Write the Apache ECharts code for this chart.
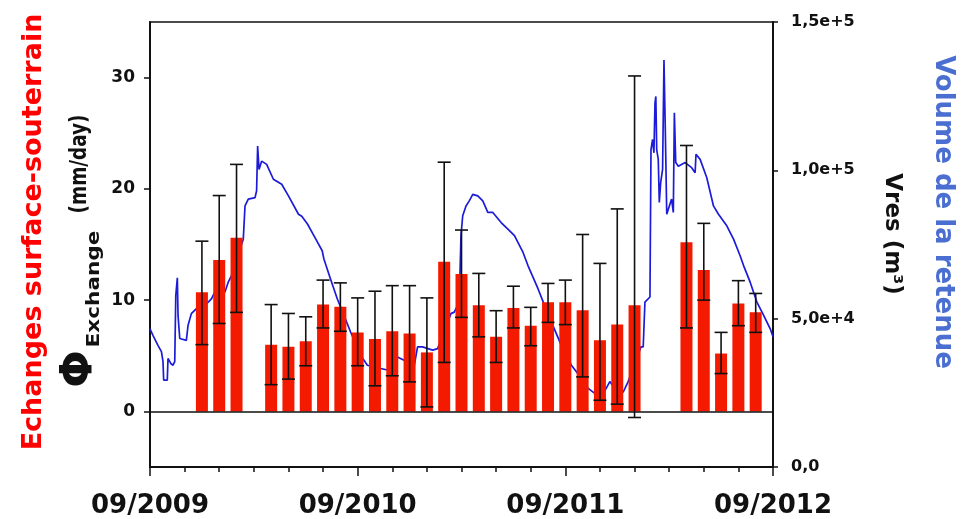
<!DOCTYPE html>
<html>
<head>
<meta charset="utf-8">
<script src="https://cdn.jsdelivr.net/npm/echarts@6/dist/echarts.min.js"></script>
<style>
html,body{margin:0;padding:0;background:#fff;}
#chart{width:972px;height:519px;}
</style>
</head>
<body>
<div id="chart"></div>
<script>
// ---- Data (months counted from 09/2009) ----
const xTickLabels = ['09/2009', '09/2010', '09/2011', '09/2012'];
const xTickMonths = [0, 12, 24, 36];
const leftTickValues = [0, 10, 20, 30];
const rightTickValues = [0, 50000, 100000, 150000];
const rightTickLabels = ['0,0', '5,0e+4', '1,0e+5', '1,5e+5'];

const barMonths = [3, 4, 5, 7, 8, 9, 10, 11, 12, 13, 14, 15, 16, 17, 18, 19, 20, 21, 22, 23, 24, 25, 26, 27, 28, 31, 32, 33, 34, 35];
const exchange  = [10.7, 13.6, 15.6, 6.0, 5.8, 6.3, 9.6, 9.4, 7.1, 6.5, 7.2, 7.0, 5.3, 13.45, 12.35, 9.55, 6.7, 9.3, 7.7, 9.8, 9.8, 9.1, 6.4, 7.8, 9.55, 15.2, 12.7, 5.2, 9.7, 8.9];
const errHigh   = [15.3, 19.4, 22.2, 9.6, 8.8, 8.5, 11.8, 11.55, 10.2, 10.8, 11.3, 11.3, 10.2, 22.4, 16.3, 12.4, 9.05, 11.25, 9.35, 11.5, 11.8, 15.9, 13.3, 18.2, 30.15, 23.9, 16.9, 7.1, 11.75, 10.6];
const errLow    = [6.0, 7.9, 8.9, 2.4, 2.9, 4.1, 7.5, 7.2, 4.1, 2.3, 3.2, 2.65, 0.4, 4.4, 8.45, 6.7, 4.4, 7.5, 5.9, 8.0, 7.8, 3.1, 1.0, 0.65, -0.55, 7.5, 10.0, 3.4, 7.7, 7.1];

const volMonth = [0, 0.17, 0.46, 0.66, 0.75, 0.79, 1.00, 1.04, 1.20, 1.33, 1.43, 1.49, 1.58, 1.62, 1.72, 2.10, 2.20, 2.39, 2.68, 3.26, 3.55, 3.75, 4.04, 4.33, 4.52, 4.71, 5.39, 5.49, 5.68, 6.07, 6.16, 6.22, 6.30, 6.45, 6.74, 7.13, 7.61, 8.00, 8.58, 8.77, 9.10, 9.47, 9.95, 10.05, 10.43, 10.82, 11.21, 11.59, 12.17, 12.56, 13.33, 13.72, 14.30, 14.68, 15.26, 15.46, 15.75, 16.33, 16.62, 17.39, 17.58, 17.87, 17.97, 18.07, 18.26, 18.45, 18.65, 18.94, 19.23, 19.52, 19.81, 20.29, 20.68, 21.06, 21.55, 21.84, 22.42, 22.80, 23.19, 23.77, 24.35, 24.93, 25.32, 25.70, 26.26, 26.57, 26.86, 27.34, 27.63, 28.37, 28.50, 28.60, 28.89, 28.95, 29.04, 29.12, 29.18, 29.23, 29.28, 29.37, 29.43, 29.51, 29.62, 29.70, 29.78, 29.86, 30.01, 30.14, 30.24, 30.30, 30.38, 30.53, 30.92, 31.30, 31.50, 31.55, 31.79, 32.17, 32.56, 32.85, 33.33, 33.72, 34.10, 34.30, 34.68, 35.07, 35.46, 35.84, 36.00];
const volume   = [46600, 44400, 41000, 38900, 35600, 29300, 29300, 36600, 34900, 34300, 35500, 57800, 63800, 51100, 43300, 42700, 47800, 51700, 53400, 55000, 56700, 59000, 58400, 59000, 62300, 64500, 76800, 88000, 90300, 90800, 93100, 108200, 100300, 103100, 102000, 97000, 95300, 91400, 85200, 84500, 81900, 78000, 72900, 70100, 63400, 56700, 51100, 45500, 37700, 34300, 33200, 32700, 37100, 36000, 33800, 40500, 40500, 39400, 39900, 51700, 52200, 55600, 78000, 84700, 88000, 89700, 91900, 91400, 89700, 85800, 85800, 82400, 80200, 78000, 72400, 67900, 60100, 54500, 48900, 41000, 34300, 29900, 26500, 24800, 25400, 28800, 26500, 25200, 28800, 40500, 40500, 55600, 57300, 107000, 110400, 105900, 122700, 124900, 107000, 103700, 89200, 95900, 100300, 137200, 112700, 85200, 88000, 90300, 85800, 119400, 102600, 101400, 102600, 100900, 99200, 105400, 103700, 97600, 88000, 85200, 81300, 76800, 71200, 67900, 62300, 55600, 51100, 46600, 43900];

// ---- Chart ----
const chart = echarts.init(document.getElementById('chart'), null, {renderer: 'canvas'});
const FONT = '"DejaVu Sans", sans-serif';
const barData = barMonths.map((m, i) => [m, exchange[i]]);
const errData = barMonths.map((m, i) => [m, errLow[i], errHigh[i]]);
const lineData = volMonth.map((m, i) => [m, volume[i]]);

const txt = (text, font, fill) => ({text, font, fill, align: 'center', verticalAlign: 'middle', textAlign: 'center', textVerticalAlign: 'middle'});

const option = {
  animation: false,
  backgroundColor: '#fff',
  grid: {left: 150, right: 199, top: 22, bottom: 50, show: true, borderColor: '#111', borderWidth: 1.5, backgroundColor: 'transparent'},
  xAxis: {
    type: 'value', min: 0, max: 36, interval: 12, position: 'bottom',
    axisLine: {show: true, onZero: false, lineStyle: {color: '#111', width: 2}},
    axisTick: {show: true, inside: false, length: 9, lineStyle: {color: '#111', width: 1.5}},
    minorTick: {show: true, splitNumber: 6, length: 5, lineStyle: {color: '#111', width: 1.5}},
    axisLabel: {
      show: true, margin: 26,
      fontFamily: FONT, fontWeight: 'bold', fontSize: 26, color: '#111',
      formatter: v => xTickLabels[xTickMonths.indexOf(v)] || ''
    },
    splitLine: {show: false},
    minorSplitLine: {show: false}
  },
  yAxis: [
    {
      type: 'value', min: -5, max: 35, position: 'left',
      axisLine: {show: true, onZero: false, lineStyle: {color: '#111', width: 2}},
      axisTick: {show: true, inside: false, length: 6, customValues: leftTickValues, lineStyle: {color: '#111', width: 1.5}},
      axisLabel: {show: true, customValues: leftTickValues, margin: 15, fontFamily: FONT, fontWeight: 'bold', fontSize: 17, color: '#111'},
      splitLine: {show: false}
    },
    {
      type: 'value', min: 0, max: 150000, interval: 50000, position: 'right',
      axisLine: {show: true, onZero: false, lineStyle: {color: '#111', width: 2}},
      axisTick: {show: true, inside: false, length: 5, lineStyle: {color: '#111', width: 1.5}},
      axisLabel: {
        show: true, margin: 18, fontFamily: FONT, fontWeight: 'bold', fontSize: 16, color: '#111',
        formatter: v => rightTickLabels[rightTickValues.indexOf(v)] || ''
      },
      splitLine: {show: false}
    }
  ],
  series: [
    {
      type: 'line', name: 'Vres', xAxisIndex: 0, yAxisIndex: 1, data: lineData,
      symbol: 'none', z: 1,
      lineStyle: {color: '#1c1cd8', width: 1.7},
      itemStyle: {color: '#1c1cd8'}
    },
    {
      type: 'bar', name: 'Exchange', xAxisIndex: 0, yAxisIndex: 0, data: barData,
      barWidth: 12, z: 2,
      itemStyle: {color: '#f41a00'},
      markLine: {
        silent: true, symbol: 'none', label: {show: false},
        lineStyle: {color: '#111', width: 1.5, type: 'solid'},
        data: [{yAxis: 0}]
      }
    },
    {
      type: 'custom', name: 'err', xAxisIndex: 0, yAxisIndex: 0, data: errData, z: 3,
      encode: {x: 0, y: [1, 2]},
      renderItem: function (params, api) {
        const x = api.value(0);
        const pLo = api.coord([x, api.value(1)]);
        const pHi = api.coord([x, api.value(2)]);
        const w = 6.5;
        const st = {stroke: '#111', lineWidth: 1.6};
        return {
          type: 'group',
          children: [
            {type: 'line', shape: {x1: pLo[0], y1: pLo[1], x2: pHi[0], y2: pHi[1]}, style: st},
            {type: 'line', shape: {x1: pLo[0] - w, y1: pLo[1], x2: pLo[0] + w, y2: pLo[1]}, style: st},
            {type: 'line', shape: {x1: pHi[0] - w, y1: pHi[1], x2: pHi[0] + w, y2: pHi[1]}, style: st}
          ]
        };
      }
    }
  ],
  graphic: [
    {type: 'text', x: 34, y: 232, rotation: Math.PI / 2,
     style: txt('Echanges surface-souterrain', 'bold 27px "DejaVu Sans"', '#ff0000')},
    {type: 'text', x: 81, y: 369, rotation: Math.PI / 2,
     style: txt('Φ', 'bold 44px "DejaVu Sans"', '#111')},
    {type: 'text', x: 95, y: 289, rotation: Math.PI / 2, scaleX: 1.27,
     style: txt('Exchange', 'bold 17px "DejaVu Sans"', '#111')},
    {type: 'text', x: 80, y: 164, rotation: Math.PI / 2, scaleX: 0.8,
     style: txt('(mm/day)', 'bold 23px "DejaVu Sans"', '#111')},
    {type: 'text', x: 892, y: 234, rotation: -Math.PI / 2,
     style: txt('Vres (m³)', 'bold 23px "DejaVu Sans"', '#111')},
    {type: 'text', x: 943, y: 212, rotation: -Math.PI / 2,
     style: txt('Volume de la retenue', 'bold 26px "DejaVu Sans"', '#4b6fd1')}
  ]
};
chart.setOption(option);
</script>
</body>
</html>
